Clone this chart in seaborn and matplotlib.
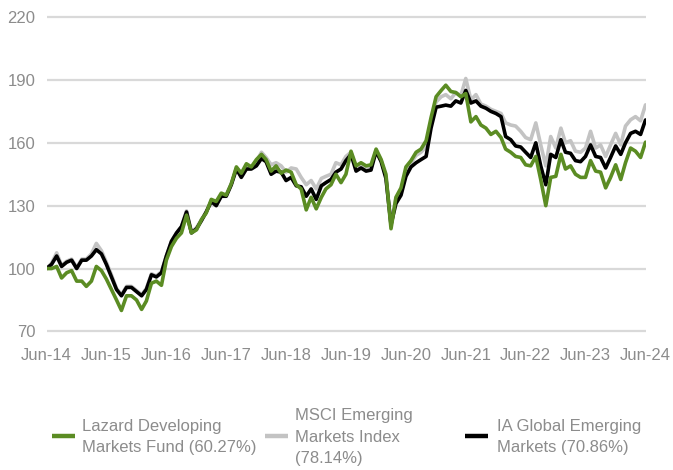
import numpy as np
import pandas as pd
import matplotlib
matplotlib.use("Agg")
import matplotlib.pyplot as plt
import matplotlib.dates as mdates
from matplotlib.lines import Line2D
import seaborn as sns

# ---- data (monthly, Jun-14 .. Jun-24, rebased to 100) ----
dates = pd.date_range("2014-06-30", periods=121, freq="ME")

lazard = [100, 100, 101, 95.5, 98, 99, 94, 94, 91.5, 94, 101, 99, 95, 90, 85, 80, 87, 87, 85, 80.5,
          84.5, 93, 94, 92, 104, 110.5, 114.5, 117, 125.5, 117, 118.5, 123.5, 126.5, 133, 132, 136,
          135, 140.5, 148.5, 145.5, 150, 148.5, 152, 154.5, 152, 146.5, 149, 145.5, 147, 146, 140,
          138, 128, 134, 128.5, 134, 138, 140, 145, 141, 145, 156, 149, 150.5, 149, 149.5, 157, 152,
          145, 119, 134, 138.5, 148.5, 151.5, 155.5, 157, 161, 172, 182, 185, 187.5, 184.5, 184, 182,
          183.5, 170, 172.5, 168.5, 167, 164, 165.5, 162.5, 157, 155.5, 153.5, 153, 149.5, 149, 153.5,
          142.5, 130, 143.5, 144, 154.5, 147.5, 149, 145, 143.5, 143.5, 151.5, 146.5, 146, 138.5,
          143.5, 149.5, 142.5, 150.5, 157.5, 156, 153, 160.3]

msci = [100, 102.5, 107.5, 101.5, 103.5, 104.5, 100.5, 104.5, 104.5, 107, 112, 108.5, 103, 97, 90.5,
        87.5, 91.5, 91.5, 89.5, 87.5, 90.5, 97.5, 96.5, 98.5, 106, 113, 117, 120, 127.5, 117.5, 119.5,
        123.5, 127, 132.5, 130.5, 135, 135, 140.5, 148, 144.5, 149, 148.5, 151, 155.5, 153, 149.5,
        150.5, 149, 146, 148, 147.5, 143.5, 140, 142, 138, 143, 144, 145, 150.5, 149.5, 153.5, 155.5,
        148, 149.5, 147.5, 148, 156.5, 151.5, 144, 120.5, 133.5, 137.5, 146.5, 150.5, 154, 155.5,
        158, 170, 179.5, 182, 183, 181, 184, 182.5, 190.7, 180.5, 183, 178.5, 177.5, 176, 175, 174,
        169.5, 168.5, 168, 165.5, 162.5, 161.5, 169.5, 159, 149, 163, 157.5, 167, 160, 161, 156,
        155.5, 157.5, 165.5, 157.5, 159, 153.5, 159, 164.5, 159, 168, 171, 172.5, 170.5, 178.1]

ia = [100, 102, 106, 101, 103, 104, 100, 104, 104, 106, 109, 107, 102, 96, 90, 87, 91, 91, 89, 87,
      90, 97, 96, 98, 106, 113, 117, 120, 127, 117, 119, 123, 127, 132, 130, 134.5, 134.5, 140,
      147.5, 143.5, 147.5, 147.5, 149, 152.5, 151, 145, 146.5, 146, 142, 143.5, 139.5, 139, 134.5,
      138, 133, 139.5, 141, 142.5, 146, 147.5, 151.5, 154.5, 146.5, 148, 146.5, 147, 156, 151, 143,
      121, 131, 135, 144, 148.5, 150.5, 152, 153.5, 167, 177, 177.5, 178, 177.5, 180, 179, 185, 179,
      180, 177.5, 176.5, 175, 174, 172.5, 163, 161.5, 158.5, 158, 155.5, 153, 160, 149, 140, 154.5,
      153, 161.5, 155.5, 155, 151.5, 151, 153.5, 159, 153.5, 153, 148, 153, 158.5, 154.5, 160,
      164.5, 165.5, 164, 170.9]

series_names = ["Lazard Developing\nMarkets Fund (60.27%)",
                "MSCI Emerging\nMarkets Index\n(78.14%)",
                "IA Global Emerging\nMarkets (70.86%)"]
series_colors = ["#5b8c23", "#c3c3c3", "#000000"]
y_ticks = [70, 100, 130, 160, 190, 220]

df = pd.concat([
    pd.DataFrame({"date": dates, "value": lazard, "series": "lazard"}),
    pd.DataFrame({"date": dates, "value": msci, "series": "msci"}),
    pd.DataFrame({"date": dates, "value": ia, "series": "ia"}),
])

# ---- figure ----
sns.set_style("white")
plt.rcParams["font.family"] = ["Liberation Sans", "DejaVu Sans"]

W, H = 673, 470
fig = plt.figure(figsize=(W / 100, H / 100), dpi=100)
# axes placed in pixel terms
left, right = 46.5, 645.5
top, bottom = 12.9, 335.6
ax = fig.add_axes([left / W, 1 - bottom / H, (right - left) / W, (bottom - top) / H])

palette = {"lazard": series_colors[0], "msci": series_colors[1], "ia": series_colors[2]}
sns.lineplot(data=df, x="date", y="value", hue="series",
             hue_order=["msci", "ia", "lazard"], palette=palette,
             linewidth=2.6, legend=False, ax=ax)

ax.set_ylim(68, 222)
ax.set_xlim(dates[0], dates[-1])
ax.set_yticks(y_ticks)
tick_dates = [d for d in dates if d.month == 6]
ax.set_xticks(tick_dates)
ax.set_xticklabels([d.strftime("Jun-%y") for d in tick_dates])
ax.set_xlabel("")
ax.set_ylabel("")

ax.grid(axis="y", color="#d9d9d9", linewidth=1.6)
ax.grid(axis="x", visible=False)
ax.set_axisbelow(True)
for s in ax.spines.values():
    s.set_visible(False)
ax.tick_params(axis="both", length=0, labelsize=12, labelcolor="#8c8c8c")
ax.tick_params(axis="y", pad=8)
ax.tick_params(axis="x", pad=9)

# ---- legend (manual, fixed-width items) ----
leg_y = 436
handle_x = [52, 265, 465]
text_x = [82, 295, 497]
for name, col, hx, tx in zip(series_names, series_colors, handle_x, text_x):
    fig.add_artist(Line2D([hx / W, (hx + 23) / W], [1 - leg_y / H, 1 - leg_y / H],
                          transform=fig.transFigure, color=col, linewidth=3.2,
                          solid_capstyle="butt"))
    fig.text(tx / W, 1 - (leg_y + 1) / H, name, ha="left", va="center",
             fontsize=12, color="#8c8c8c", linespacing=1.55)

fig.savefig("out.png", dpi=100)
